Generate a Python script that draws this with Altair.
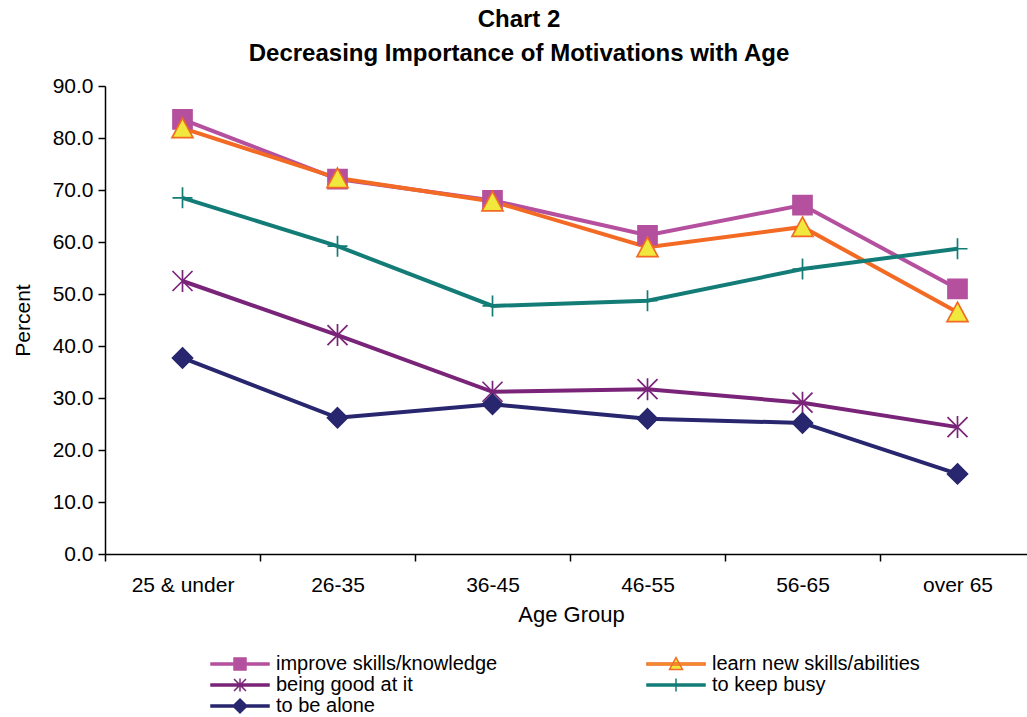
import altair as alt
import pandas as pd

# Age groups (x categories) and the five motivation series (percent)
ages = ["25 & under", "26-35", "36-45", "46-55", "56-65", "over 65"]
series = [
    "improve skills/knowledge",
    "learn new skills/abilities",
    "being good at it",
    "to keep busy",
    "to be alone",
]
improve_skills = [83.6, 72.1, 68.0, 61.3, 67.1, 51.0]
learn_new = [81.9, 72.3, 67.8, 59.0, 62.9, 46.5]
being_good = [52.5, 42.1, 31.2, 31.7, 29.1, 24.4]
keep_busy = [68.5, 59.2, 47.7, 48.7, 54.8, 58.7]
be_alone = [37.7, 26.2, 28.8, 26.0, 25.2, 15.4]

line_colors = ["#B4509E", "#F26A23", "#7A2479", "#137C77", "#27266E"]
marker_fills = ["#B4509E", "#F0E83C", "transparent", "transparent", "#27266E"]
legend_fills = ["#B4509E", "#F0E83C", "#7A2479", "#137C77", "#27266E"]

# marker outlines in the unit square
square = "M-0.95,-0.95H0.95V0.95H-0.95Z"
triangle = "M0,-1L1.05,0.95H-1.05Z"
asterisk = "M0,-1.1V1.1M-1,-1L1,1M-1,1L1,-1"
plus = "M-1,0H1M0,-1.05V1.05"
diamond = "M0,-1L1,0L0,1L-1,0Z"
plot_shapes = [square, triangle, asterisk, plus, diamond]

# legend keys: a short line segment with the marker on top
seg = "M-5.8,-0.2H5.8V0.2H-5.8Z"
legend_shapes = [
    seg + "M-1.2,-1.2H1.2V1.2H-1.2Z",
    seg + "M0,-1.3L1.3,1.1H-1.3Z",
    seg + "M0,-1.3V1.3M-1.2,-1.2L1.2,1.2M-1.2,1.2L1.2,-1.2",
    seg + "M0,-1.3V1.3",
    seg + "M0,-1.4L1.4,0L0,1.4L-1.4,0Z",
]

# legend fills its columns top to bottom; this order reads row by row
legend_order = [0, 2, 4, 1, 3]
leg_domain = [series[i] for i in legend_order]
leg_shapes = [legend_shapes[i] for i in legend_order]
leg_fills = [legend_fills[i] for i in legend_order]
leg_strokes = [line_colors[i] for i in legend_order]

values = [improve_skills, learn_new, being_good, keep_busy, be_alone]
rows = []
for s_idx, (name, vals) in enumerate(zip(series, values)):
    for a, v in zip(ages, vals):
        rows.append({"series": name, "age": a, "pct": v, "k": s_idx})
df = pd.DataFrame(rows)

FONT = "Liberation Sans"

x_enc = alt.X(
    "age:N",
    sort=ages,
    bandPosition=0.5,
    scale=alt.Scale(type="band", range=[0, 930], paddingInner=0, paddingOuter=0),
    axis=alt.Axis(
        title="Age Group",
        tickBand="extent",
        labelFontSize=21,
        labelFont=FONT,
        labelColor="black",
        labelPadding=13,
        labelAngle=0,
        tickSize=7,
        tickColor="black",
        tickWidth=1.5,
        domainColor="black",
        domainWidth=1.5,
        titleFont=FONT,
        titleFontSize=22,
        titleFontWeight="normal",
        titleColor="black",
        titleX=466,
        titleY=50,
    ),
)
y_enc = alt.Y(
    "pct:Q",
    scale=alt.Scale(domain=[0, 90], nice=False),
    axis=alt.Axis(
        title="Percent",
        values=list(range(0, 91, 10)),
        format=".1f",
        grid=False,
        labelFontSize=21,
        labelFont=FONT,
        labelColor="black",
        labelPadding=5,
        tickSize=7,
        tickColor="black",
        tickWidth=1.5,
        domainColor="black",
        domainWidth=1.5,
        titleFont=FONT,
        titleFontSize=21,
        titleFontWeight="normal",
        titleColor="black",
        titleX=-72,
        titleY=234,
    ),
)

lines = alt.Chart(df).mark_line(strokeWidth=4).encode(
    x=x_enc,
    y=y_enc,
    color=alt.Color(
        "series:N", scale=alt.Scale(domain=series, range=line_colors), legend=None
    ),
    detail="series:N",
)

markers = alt.Chart(df).mark_point(size=400, strokeWidth=1.7, opacity=1, fillOpacity=1).encode(
    x=x_enc,
    y=y_enc,
    shape=alt.Shape("series:N", scale=alt.Scale(domain=series, range=plot_shapes), legend=None),
    fill=alt.Fill("series:N", scale=alt.Scale(domain=series, range=marker_fills), legend=None),
    stroke=alt.Stroke("series:N", scale=alt.Scale(domain=series, range=line_colors), legend=None),
    order="k:Q",
)

leg = alt.Legend(
    title=None,
    orient="none",
    legendX=125,
    legendY=568,
    direction="vertical",
    columns=2,
    columnPadding=146,
    rowPadding=1,
    padding=0,
    labelFont=FONT,
    labelFontSize=20,
    labelColor="black",
    labelOffset=26,
    labelLimit=0,
    symbolSize=100,
    symbolStrokeWidth=1.5,
    symbolOpacity=1,
)

legend_layer = alt.Chart(df).transform_filter("false").mark_point(
    size=100, strokeWidth=1.5, opacity=1, fillOpacity=1
).encode(
    x=x_enc,
    y=y_enc,
    shape=alt.Shape("series:N", scale=alt.Scale(domain=leg_domain, range=leg_shapes), legend=leg),
    fill=alt.Fill("series:N", scale=alt.Scale(domain=leg_domain, range=leg_fills), legend=leg),
    stroke=alt.Stroke("series:N", scale=alt.Scale(domain=leg_domain, range=leg_strokes), legend=leg),
)

chart = (
    alt.layer(lines, markers, legend_layer)
    .resolve_scale(shape="independent", fill="independent", stroke="independent")
    .properties(
        width=922,
        height=468,
        autosize="none",
        padding={"left": 105, "top": 86, "right": 0, "bottom": 163},
        background="white",
        title=alt.TitleParams(
            text=["Chart 2", "Decreasing Importance of Motivations with Age"],
            font=FONT,
            fontSize=24,
            fontWeight="bold",
            color="black",
            anchor="middle",
            dx=-47,
            offset=9,
            lineHeight=34,
        ),
    )
    .configure_view(stroke=None)
)

chart.save("out.html", embed_options={"renderer": "svg", "actions": False})
